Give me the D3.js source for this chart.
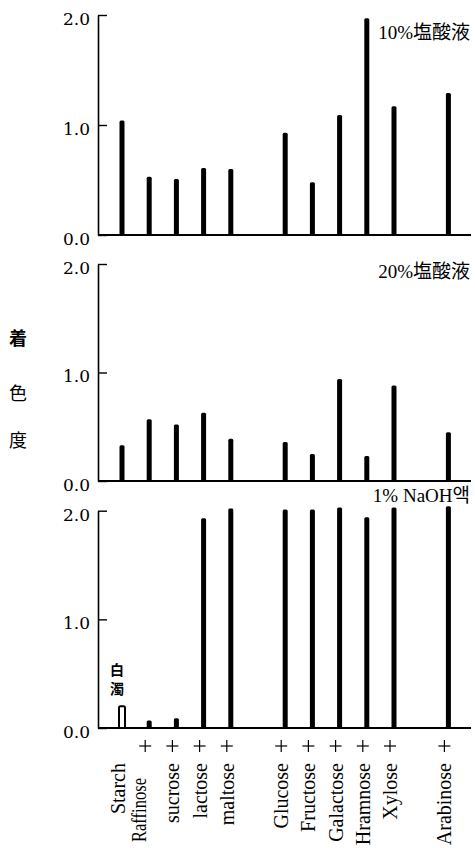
<!DOCTYPE html>
<html>
<head>
<meta charset="utf-8">
<script src="https://cdn.jsdelivr.net/npm/d3@7"></script>
<style>
  html, body { margin: 0; padding: 0; background: #fff; }
  svg { display: block; }
  text { fill: #000; }
</style>
</head>
<body>
<div class="chart"></div>
<script>
// sugars, in the order they stand on the x axis
const categories = ["Starch", "Raffinose", "sucrose", "lactose", "maltose",
  "Glucose", "Fructose", "Galactose", "Hramnose", "Xylose", "Arabinose"];

// colour degree (着色度)
const hcl10 = [1.04, 0.53, 0.51, 0.61, 0.60, 0.93, 0.48, 1.09, 1.97, 1.17, 1.29];
const hcl20 = [0.33, 0.57, 0.52, 0.63, 0.39, 0.36, 0.25, 0.94, 0.23, 0.88, 0.45];
const naoh1 = [0.20, 0.07, 0.09, 1.93, 2.02, 2.01, 2.01, 2.03, 1.94, 2.03, 2.04];

// "+" under the x axis (Starch has none)
const plusMarks = [false, true, true, true, true, true, true, true, true, true, true];

const panelTitles = ["10%塩酸液", "20%塩酸液", "1% NaOH액"];
const yTicks = [0, 1, 2];
const yTitle = ["着", "色", "度"];

const W = 475, H = 848;
const axisX = 98, rightX = 471;

// gaps after maltose and Xylose
const slots = categories.slice(0, 5).concat(["_g1"], categories.slice(5, 10), ["_g2"], categories.slice(10));
const x = d3.scalePoint().domain(slots).range([122, 448.4]);

const panels = [
  { values: hcl10, top: 15, base: 235, title: panelTitles[0], titleY: 32 },
  { values: hcl20, top: 264, base: 481, title: panelTitles[1], titleY: 271 },
  { values: naoh1, top: 510.7, base: 728, title: panelTitles[2], titleY: 495 }
];

const svg = d3.select(".chart").append("svg")
  .attr("width", W)
  .attr("height", H);

const serif = "'Liberation Serif', 'Times New Roman', serif";
const cjk = "'Noto Sans CJK JP', 'Noto Sans CJK KR', sans-serif";

panels.forEach((p, pi) => {
  const y = d3.scaleLinear().domain([0, 2]).range([p.base, p.top]);
  const g = svg.append("g");

  const yAxis = d3.axisLeft(y)
    .tickValues(yTicks)
    .tickFormat(d3.format(".1f"))
    .tickSizeInner(-9)
    .tickSizeOuter(0)
    .tickPadding(8);

  const ax = g.append("g")
    .attr("transform", "translate(" + axisX + ",0)")
    .call(yAxis);
  ax.select(".domain").attr("stroke", "#000").attr("stroke-width", 1.6);
  ax.selectAll(".tick line").attr("stroke", "#000").attr("stroke-width", 1.4);
  ax.selectAll(".tick text")
    .attr("fill", "#000")
    .attr("dy", "0.55em")
    .style("font-family", "'DejaVu Serif', serif")
    .style("font-size", "17px");

  // baseline
  g.append("line")
    .attr("x1", axisX).attr("x2", rightX)
    .attr("y1", y(0)).attr("y2", y(0))
    .attr("stroke", "#000").attr("stroke-width", 2);

  // bars
  g.selectAll("rect.bar")
    .data(categories.map((c, i) => ({ c, v: p.values[i] })))
    .enter().append("rect")
    .attr("class", "bar")
    .attr("x", d => x(d.c) - 2.5)
    .attr("width", 5)
    .attr("y", d => y(d.v))
    .attr("height", d => y(0) - y(d.v))
    .attr("rx", 1.5)
    .attr("fill", "#000");

  g.append("text")
    .attr("x", 470)
    .attr("y", p.titleY)
    .attr("dy", "0.35em")
    .attr("text-anchor", "end")
    .attr("fill", "#000")
    .style("font-family", serif + ", " + cjk)
    .style("font-size", "19px")
    .text(p.title);

  if (pi === 2) {
    // the starch bar in NaOH is white (turbid): outlined
    g.select("rect.bar")
      .attr("fill", "#fff")
      .attr("stroke", "#000")
      .attr("stroke-width", 2)
      .attr("x", x("Starch") - 3)
      .attr("width", 6);
    const t = g.append("text")
      .attr("text-anchor", "middle")
      .attr("fill", "#000")
      .style("font-family", cjk)
      .style("font-weight", "bold")
      .style("font-size", "14px");
    t.append("tspan").attr("x", x("Starch") - 5).attr("y", 675).text("白");
    t.append("tspan").attr("x", x("Starch") - 5).attr("y", 694).text("濁");
  }
});

// y title, one character per line
svg.selectAll("text.ytitle")
  .data(yTitle)
  .enter().append("text")
  .attr("class", "ytitle")
  .attr("x", 18)
  .attr("y", (d, i) => [339, 394, 441][i])
  .attr("dy", "0.35em")
  .attr("text-anchor", "middle")
  .attr("fill", "#000")
  .style("font-family", cjk)
  .style("font-weight", (d, i) => i === 0 ? "bold" : "normal")
  .style("font-size", "18px")
  .text(d => d);

// "+" marks drawn as thin crosses
const plus = svg.selectAll("g.plus")
  .data(categories.filter((c, i) => plusMarks[i]))
  .enter().append("g")
  .attr("class", "plus")
  .attr("transform", d => "translate(" + (x(d) - 4) + ",746)");
plus.append("line").attr("x1", -6).attr("x2", 6).attr("y1", 0).attr("y2", 0)
  .attr("stroke", "#000").attr("stroke-width", 1.2);
plus.append("line").attr("x1", 0).attr("x2", 0).attr("y1", -6).attr("y2", 6)
  .attr("stroke", "#000").attr("stroke-width", 1.2);

// category labels, rotated
svg.selectAll("text.cat")
  .data(categories)
  .enter().append("text")
  .attr("class", "cat")
  .attr("transform", d => {
    const lx = d === "Raffinose" ? x(d) - 10 : x(d) - 4;
    const ly = d === "Raffinose" ? 778 : 763;
    return "translate(" + lx + "," + ly + ") rotate(-90)";
  })
  .attr("dy", "0.35em")
  .attr("text-anchor", "end")
  .attr("fill", "#000")
  .attr("textLength", d => d === "Raffinose" ? 64 : null)
  .attr("lengthAdjust", "spacingAndGlyphs")
  .style("font-family", serif)
  .style("font-size", "20px")
  .text(d => d);
</script>
</body>
</html>
